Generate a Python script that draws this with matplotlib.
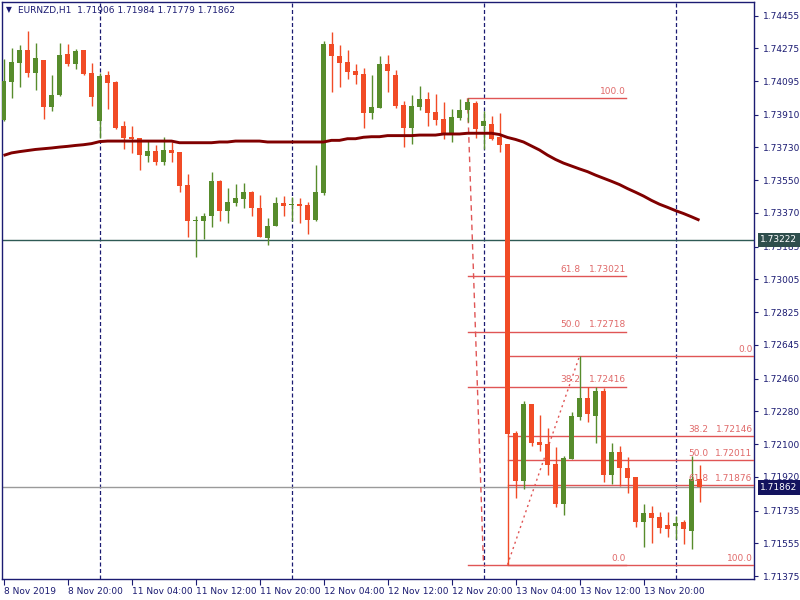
import matplotlib
matplotlib.use('Agg')
import matplotlib.pyplot as plt
import matplotlib.transforms as mtransforms

# ---------------- data ----------------
opens = [1.73881, 1.74091, 1.74196, 1.74265, 1.74141, 1.74211, 1.73954, 1.74018, 1.74243, 1.74189,
         1.74265, 1.74137, 1.73877, 1.74128, 1.74091, 1.73848, 1.73789, 1.73784, 1.73685, 1.73710,
         1.73652, 1.73716, 1.73705, 1.73524, 1.73327, 1.73327, 1.73355, 1.73546, 1.73382, 1.73426,
         1.73448, 1.73485, 1.73396, 1.73234, 1.73300, 1.73425, 1.73412, 1.73419, 1.73414, 1.73331,
         1.73481, 1.74300, 1.74232, 1.74200, 1.74152, 1.74134, 1.73921, 1.73948, 1.74189, 1.74128,
         1.73962, 1.73839, 1.73954, 1.73996, 1.73925, 1.73886, 1.73811, 1.73893, 1.73934, 1.73976,
         1.73849, 1.73859, 1.73787, 1.73747, 1.72161, 1.71899, 1.72320, 1.72111, 1.72100, 1.71991,
         1.71771, 1.72018, 1.72250, 1.72353, 1.72256, 1.72392, 1.71930, 1.72057, 1.71969, 1.71917,
         1.71672, 1.71720, 1.71698, 1.71655, 1.71650, 1.71672, 1.71624, 1.71906]
highs = [1.74216, 1.74275, 1.74293, 1.74370, 1.74302, 1.74211, 1.74128, 1.74306, 1.74297, 1.74273,
         1.74265, 1.74196, 1.74141, 1.74150, 1.74097, 1.73877, 1.73848, 1.73784, 1.73771, 1.73742,
         1.73789, 1.73760, 1.73705, 1.73584, 1.73353, 1.73368, 1.73595, 1.73551, 1.73506, 1.73529,
         1.73536, 1.73490, 1.73469, 1.73342, 1.73459, 1.73463, 1.73459, 1.73452, 1.73430, 1.73634,
         1.74317, 1.74364, 1.74295, 1.74265, 1.74189, 1.74167, 1.74130, 1.74232, 1.74238, 1.74156,
         1.73985, 1.74017, 1.74068, 1.74035, 1.74024, 1.73980, 1.73941, 1.73995, 1.74000, 1.73984,
         1.73930, 1.73903, 1.73918, 1.73750, 1.72172, 1.72337, 1.72320, 1.72260, 1.72188, 1.72084,
         1.72035, 1.72276, 1.72583, 1.72415, 1.72415, 1.72410, 1.72108, 1.72088, 1.72029, 1.71917,
         1.71771, 1.71760, 1.71727, 1.71727, 1.71705, 1.71683, 1.72035, 1.71984]
lows = [1.73875, 1.74003, 1.74064, 1.74119, 1.74046, 1.73885, 1.73930, 1.74013, 1.74179, 1.74161,
        1.74130, 1.73958, 1.73784, 1.73943, 1.73830, 1.73720, 1.73698, 1.73606, 1.73650, 1.73635,
        1.73634, 1.73650, 1.73485, 1.73240, 1.73130, 1.73229, 1.73295, 1.73327, 1.73316, 1.73408,
        1.73396, 1.73353, 1.73236, 1.73194, 1.73298, 1.73355, 1.73327, 1.73316, 1.73253, 1.73327,
        1.73470, 1.74033, 1.74064, 1.74106, 1.74080, 1.73839, 1.73888, 1.73945, 1.74033, 1.73945,
        1.73734, 1.73751, 1.73934, 1.73849, 1.73852, 1.73778, 1.73762, 1.73882, 1.73871, 1.73784,
        1.73723, 1.73771, 1.73707, 1.71437, 1.71805, 1.71852, 1.72091, 1.72062, 1.71930, 1.71756,
        1.71710, 1.72018, 1.72232, 1.72221, 1.72108, 1.71893, 1.71881, 1.71871, 1.71833, 1.71643,
        1.71536, 1.71558, 1.71613, 1.71588, 1.71580, 1.71551, 1.71522, 1.71779]
closes = [1.74097, 1.74200, 1.74265, 1.74141, 1.74222, 1.73954, 1.74018, 1.74238, 1.74189, 1.74262,
          1.74134, 1.74009, 1.74123, 1.74086, 1.73839, 1.73784, 1.73778, 1.73688, 1.73710, 1.73652,
          1.73716, 1.73701, 1.73520, 1.73327, 1.73331, 1.73353, 1.73546, 1.73382, 1.73430, 1.73452,
          1.73485, 1.73396, 1.73240, 1.73298, 1.73425, 1.73410, 1.73419, 1.73410, 1.73331, 1.73485,
          1.74300, 1.74234, 1.74196, 1.74146, 1.74130, 1.73921, 1.73951, 1.74189, 1.74152, 1.73958,
          1.73839, 1.73958, 1.73996, 1.73921, 1.73881, 1.73811, 1.73897, 1.73936, 1.73980, 1.73833,
          1.73875, 1.73778, 1.73743, 1.72157, 1.71899, 1.72320, 1.72108, 1.72097, 1.71987, 1.71771,
          1.72024, 1.72254, 1.72353, 1.72265, 1.72392, 1.71930, 1.72057, 1.71969, 1.71914, 1.71672,
          1.71720, 1.71694, 1.71640, 1.71635, 1.71666, 1.71632, 1.71910, 1.71862]
ma200 = [1.73686, 1.73700, 1.73707, 1.73713, 1.73719, 1.73723, 1.73727, 1.73732, 1.73736, 1.73741,
         1.73745, 1.73751, 1.73762, 1.73765, 1.73765, 1.73765, 1.73765, 1.73765, 1.73765, 1.73765,
         1.73765, 1.73765, 1.73756, 1.73756, 1.73756, 1.73756, 1.73756, 1.73760, 1.73760, 1.73765,
         1.73765, 1.73765, 1.73765, 1.73760, 1.73760, 1.73760, 1.73760, 1.73760, 1.73760, 1.73760,
         1.73760, 1.73769, 1.73769, 1.73778, 1.73778, 1.73786, 1.73789, 1.73789, 1.73795, 1.73795,
         1.73795, 1.73795, 1.73798, 1.73798, 1.73798, 1.73804, 1.73804, 1.73804, 1.73808, 1.73808,
         1.73808, 1.73808, 1.73801, 1.73785, 1.73774, 1.73760, 1.73738, 1.73716, 1.73688, 1.73664,
         1.73644, 1.73628, 1.73612, 1.73597, 1.73578, 1.73561, 1.73544, 1.73526, 1.73504, 1.73484,
         1.73463, 1.73439, 1.73418, 1.73401, 1.73383, 1.73367, 1.73349, 1.73330]

x_tick_pos = [0, 8, 16, 24, 32, 40, 48, 56, 64, 72, 80]
x_tick_labels = ["8 Nov 2019", "8 Nov 20:00", "11 Nov 04:00", "11 Nov 12:00", "11 Nov 20:00",
                 "12 Nov 04:00", "12 Nov 12:00", "12 Nov 20:00", "13 Nov 04:00", "13 Nov 12:00",
                 "13 Nov 20:00"]
y_tick_vals = [1.74455, 1.74275, 1.74095, 1.73910, 1.73730, 1.73550, 1.73370, 1.73185, 1.73005,
               1.72825, 1.72645, 1.72460, 1.72280, 1.72100, 1.71920, 1.71735, 1.71555, 1.71375]
day_separators = [12, 36, 60, 84]

hline_price = 1.73222
last_price = 1.71862
title_text = "EURNZD,H1  1.71906 1.71984 1.71779 1.71862"

# Fibonacci retracements
fib1_high, fib1_low = 1.74000, 1.71437
fib1_x = (58, 60)           # anchor bars of the trend line
fib1_span = (58, 77.8)      # extent of level lines
fib1_levels = [0.0, 38.2, 50.0, 61.8, 100.0]
fib1_price_text = ["", "1.72416", "1.72718", "1.73021", ""]

fib2_high, fib2_low = 1.72583, 1.71437
fib2_x = (63, 72)
fib2_span = (63, 93.85)
fib2_levels = [0.0, 38.2, 50.0, 61.8, 100.0]
fib2_price_text = ["", "1.72146", "1.72011", "1.71876", ""]

# ---------------- styling ----------------
BULL = '#578c2c'
BEAR = '#f14b26'
NAVY = '#1b1b72'
FIB = '#e05555'
FIBTXT = '#e06a6a'
MA_COL = '#800000'

fig = plt.figure(figsize=(8, 6), dpi=100)
fig.patch.set_facecolor('white')
L, R, T, B = 2.3, 754.3, 2.3, 579.0
ax = fig.add_axes([L / 800, (600 - B) / 600, (R - L) / 800, (B - T) / 600])
ax.set_facecolor('white')

xmin, xmax = -0.15, 93.85
ax.set_xlim(xmin, xmax)
ax.set_ylim(1.713586, 1.745276)

n = len(opens)
idx = list(range(n))

# day separators
for d in day_separators:
    ax.axvline(d, color=NAVY, lw=0.9, ls=(0, (3.2, 2.0)), zorder=1)

# horizontal lines
ax.axhline(hline_price, color='#2e5a55', lw=1.0, zorder=2)
ax.axhline(last_price, color='#9a9a9a', lw=1.0, zorder=2)

# candles
min_h = 0.00006
for i in idx:
    o, h, l, c = opens[i], highs[i], lows[i], closes[i]
    col = BULL if c >= o else BEAR
    ax.vlines(i, l, h, color=col, lw=1.0, zorder=4)
    bot = min(o, c)
    hgt = abs(c - o)
    if hgt < min_h:
        bot = (o + c) / 2 - min_h / 2
        hgt = min_h
    ax.bar(i, hgt, bottom=bot, width=0.66, color=col, linewidth=0, zorder=4)

# moving average
ax.plot(idx, ma200, color=MA_COL, lw=2.1, zorder=5, solid_capstyle='butt')

# fib 1 (0 at low, 100 at high)
ax.plot(fib1_x, (fib1_high, fib1_low), color=FIB, lw=1.0, ls=(0, (4, 3)), zorder=3)
for lev, ptxt in zip(fib1_levels, fib1_price_text):
    yv = fib1_low + lev / 100.0 * (fib1_high - fib1_low)
    ax.plot(fib1_span, (yv, yv), color=FIB, lw=1.0, zorder=3)
    if ptxt:
        ax.annotate(ptxt, (fib1_span[1], yv), xytext=(0, 1.5), textcoords='offset points',
                    ha='right', va='bottom', fontsize=6.5, color=FIBTXT, zorder=6)
        ax.annotate(f"{lev:.1f}", (fib1_span[1], yv), xytext=(-33, 1.5), textcoords='offset points',
                    ha='right', va='bottom', fontsize=6.5, color=FIBTXT, zorder=6)
    else:
        ax.annotate(f"{lev:.1f}", (fib1_span[1], yv), xytext=(0, 1.5), textcoords='offset points',
                    ha='right', va='bottom', fontsize=6.5, color=FIBTXT, zorder=6)

# fib 2 (0 at high, 100 at low)
ax.plot(fib2_x, (fib2_low, fib2_high), color=FIB, lw=1.0, ls=(0, (1.5, 2.5)), zorder=3)
for lev, ptxt in zip(fib2_levels, fib2_price_text):
    yv = fib2_high - lev / 100.0 * (fib2_high - fib2_low)
    ax.plot(fib2_span, (yv, yv), color=FIB, lw=1.0, zorder=3)
    xe = fib2_span[1] - 0.2
    if ptxt:
        ax.annotate(ptxt, (xe, yv), xytext=(0, 1.5), textcoords='offset points',
                    ha='right', va='bottom', fontsize=6.5, color=FIBTXT, zorder=6)
        ax.annotate(f"{lev:.1f}", (xe, yv), xytext=(-32, 1.5), textcoords='offset points',
                    ha='right', va='bottom', fontsize=6.5, color=FIBTXT, zorder=6)
    else:
        ax.annotate(f"{lev:.1f}", (xe, yv), xytext=(0, 1.5), textcoords='offset points',
                    ha='right', va='bottom', fontsize=6.5, color=FIBTXT, zorder=6)

# spines / ticks
for s in ax.spines.values():
    s.set_color(NAVY)
    s.set_linewidth(1.0)

ax.yaxis.tick_right()
ax.set_yticks(y_tick_vals)
ax.set_yticklabels([f"{v:.5f}" for v in y_tick_vals])
ax.tick_params(axis='y', direction='out', length=3, width=0.8, color=NAVY,
               labelcolor=NAVY, labelsize=6.5, pad=3)

ax.set_xticks(x_tick_pos)
ax.set_xticklabels(x_tick_labels)
ax.tick_params(axis='x', direction='out', length=4, width=0.8, color=NAVY,
               labelcolor=NAVY, labelsize=6.5, pad=2)
off = mtransforms.ScaledTranslation(1 / 100, 0, fig.dpi_scale_trans)
for lab in ax.get_xticklabels():
    lab.set_horizontalalignment('left')
    lab.set_transform(lab.get_transform() + off)

# price boxes on the axis
btr = mtransforms.blended_transform_factory(ax.transAxes, ax.transData)
ax.text(1.0 + 6 / 752, hline_price, f"{hline_price:.5f}", transform=btr, ha='left', va='center',
        fontsize=6.5, color='white', zorder=10, clip_on=False,
        bbox=dict(boxstyle='square,pad=0.3', fc='#2e4e4c', ec='none'))
ax.text(1.0 + 6 / 752, last_price, f"{last_price:.5f}", transform=btr, ha='left', va='center',
        fontsize=6.5, color='white', zorder=10, clip_on=False,
        bbox=dict(boxstyle='square,pad=0.3', fc='#13135e', ec='none'))

# title
fig.text(6 / 800, 1 - 10 / 600, "\u25BC", fontsize=5.5, color=NAVY, va='center', ha='left')
fig.text(18 / 800, 1 - 10 / 600, title_text, fontsize=6.5, color=NAVY, va='center', ha='left')

fig.savefig('out.png', dpi=100, facecolor='white')
